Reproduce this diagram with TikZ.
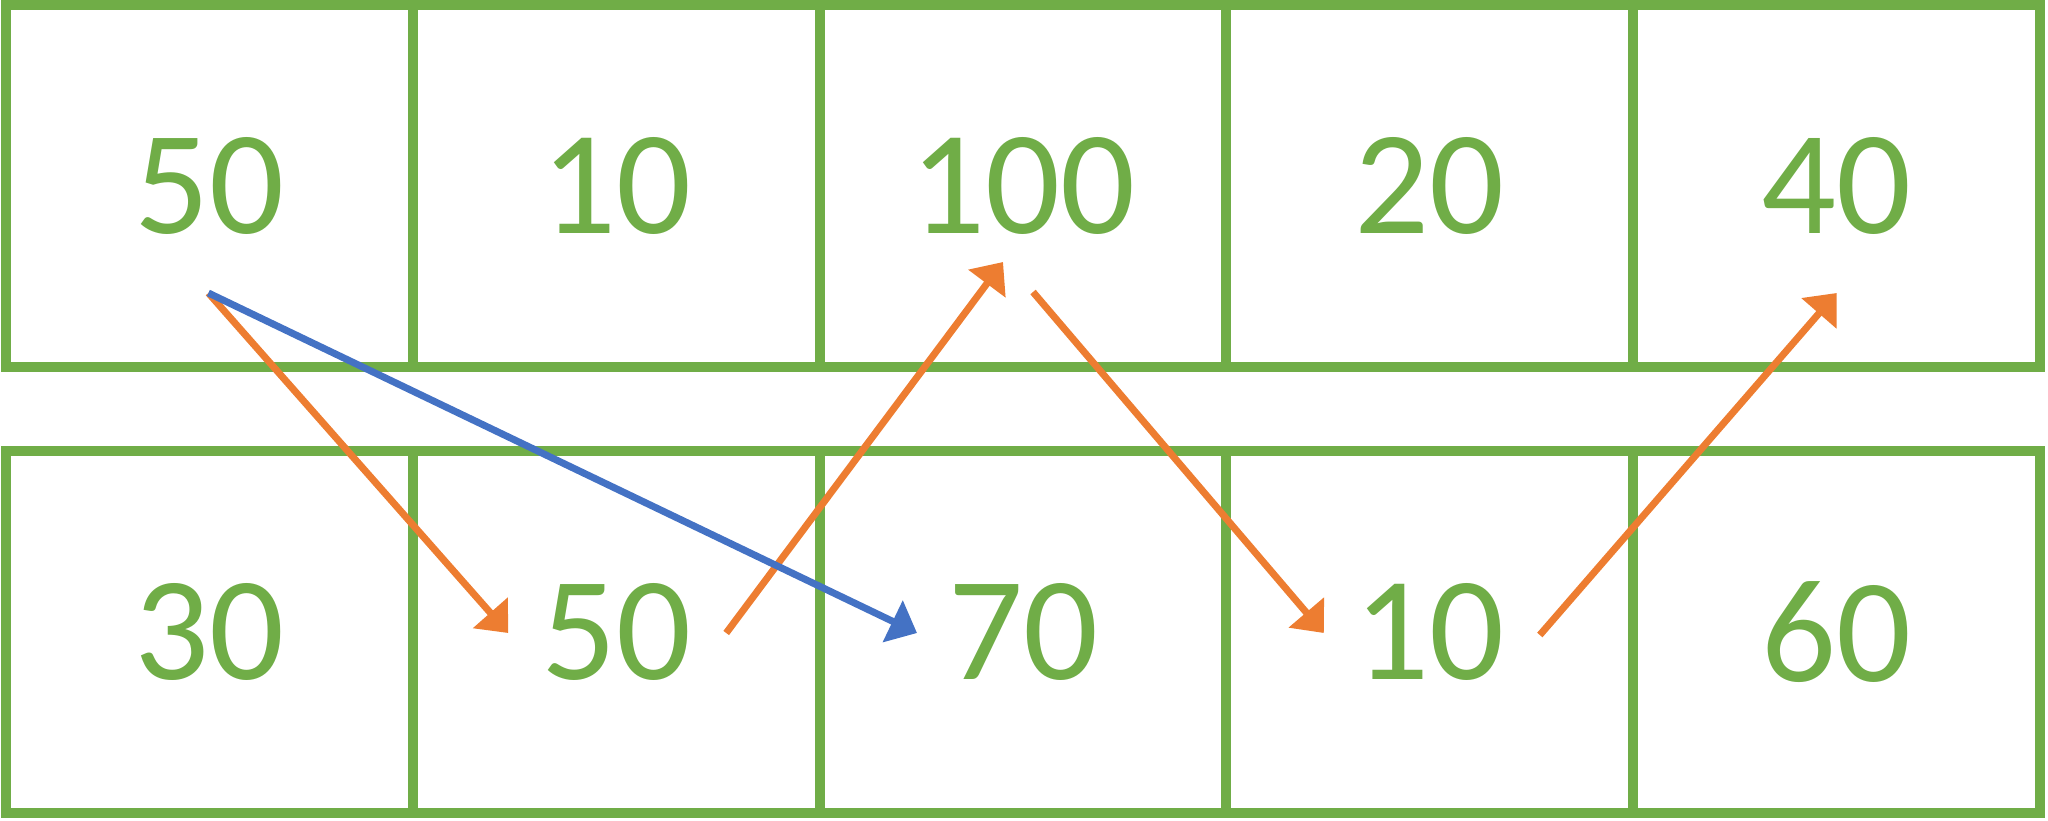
\documentclass[tikz,border=0pt]{standalone}
\usepackage{fontspec}
\setmainfont{Carlito}
\usetikzlibrary{arrows.meta,calc}
\definecolor{cellgreen}{HTML}{70AD47}
\definecolor{movorange}{HTML}{ED7D31}
\definecolor{movblue}{HTML}{4472C4}

\begin{document}
\begin{tikzpicture}[
  x=0.5pt, y=-0.5pt,
  every node/.style={font=\fontsize{74}{74}\selectfont, text=cellgreen},
  cell/.style={draw=cellgreen, line width=5pt, inner sep=0pt,
    minimum width=203.4pt, minimum height=181pt},
  move/.style={line width=3.5pt, -{Triangle[length=13.5pt,width=22.5pt]}}]
  \useasboundingbox (0,0) rectangle (2048,820);
  % 上排
  \node[cell] (t1) at (209.4,186)  {50};
  \node[cell] (t2) at (616.2,186)  {10};
  \node[cell] (t3) at (1023,186)   {100};
  \node[cell] (t4) at (1429.8,186) {20};
  \node[cell] (t5) at (1836.6,186) {40};
  % 下排
  \node[cell] (b1) at (209.4,632)  {30};
  \node[cell] (b2) at (616.2,632)  {50};
  \node[cell] (b3) at (1023,632)   {70};
  \node[cell] (b4) at (1429.8,632) {10};
  \node[cell] (b5) at (1836.6,632) {60};
  \draw[move,color=movorange] ($(t1)+(-1,107)$) -- ($(b2)+(-108,1)$);
  \draw[move,color=movorange] ($(b2)+(110,1)$)  -- ($(t3)+(-20,76)$);
  \draw[move,color=movorange] ($(t3)+(10,106)$) -- ($(b4)+(-106,1)$);
  \draw[move,color=movorange] ($(b4)+(110,3)$)  -- ($(t5)+(0,107)$);
  \draw[move,color=movblue]   ($(t1)+(-1,107)$) -- ($(b3)+(-106,1)$);
\end{tikzpicture}
\end{document}
